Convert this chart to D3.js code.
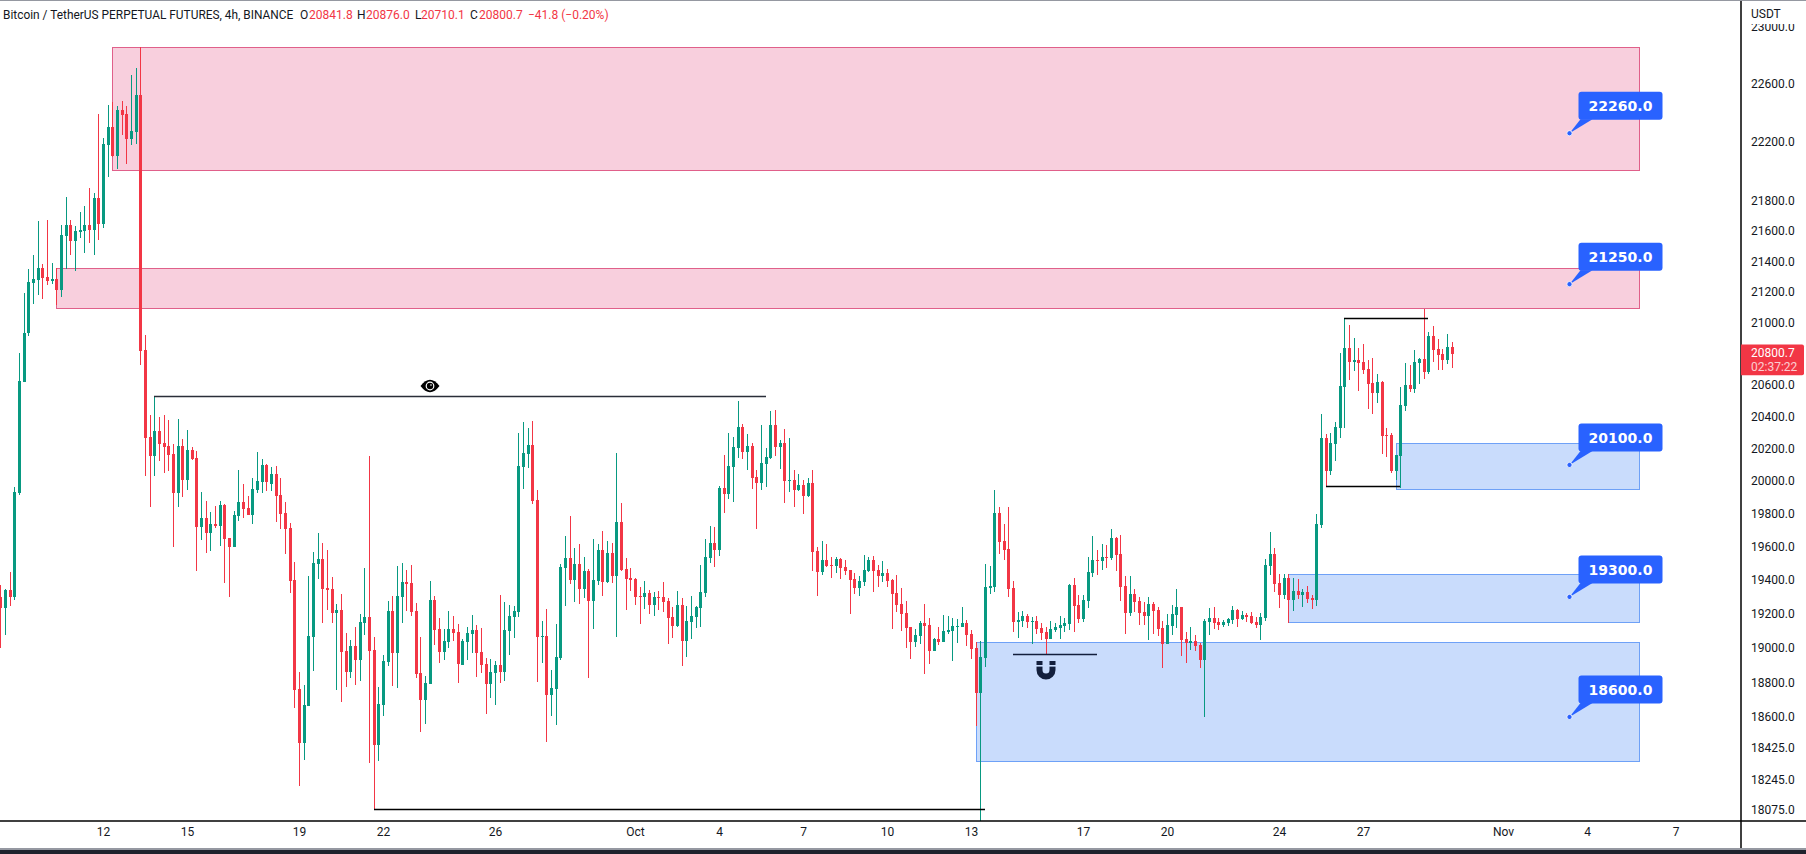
<!DOCTYPE html>
<html lang="en">
<head>
    <meta charset="UTF-8">
    <title>BTCUSDT Perpetual 4h</title>
    <script src="https://d3js.org/d3.v7.min.js"></script>
    <style>
        * { margin: 0; padding: 0; box-sizing: border-box; }
        html, body { width: 100%; height: 100%; overflow: hidden; background: #fff; }
        svg { display: block; }
        text { font-family: Roboto, Arial, sans-serif; font-size: 12px; fill: #131722; }
    </style>
</head>
<body>
    <svg id="chart" width="1806" height="854"></svg>

    <script>
        // 4h candles, first candle is Sep 8 08:00
        const firstCandle = Date.UTC(2022, 8, 8, 8);
        const candleMs = 4 * 3600 * 1000;

        const openPrices = [
            19300,19235,19341,19300,19929,20619,20936,21258,21277,21355,
            21297,21271,21284,21213,21567,21640,21533,21593,21600,21640,
            21607,21820,21647,22180,22303,22105,22421,22393,22220,22269,
            22524,20826,20275,20157,20312,20237,20219,20169,19929,20219,
            20009,20194,20145,19721,19776,19685,19739,19727,19855,19655,
            19600,19788,19874,19837,19794,19948,19997,20102,19985,20046,
            19917,19806,19715,19400,18762,18454,18664,19065,19497,19527,
            19353,19347,19206,19224,18983,18861,19012,18930,19147,19182,
            18988,18442,18669,18919,19218,18971,19300,19388,19382,19218,
            18855,18698,18791,19282,19112,18977,19035,19112,19094,18901,
            19035,19082,19106,18977,18907,18791,18855,18901,18861,19100,
            19182,19212,20089,20169,20225,19886,19065,19071,18727,18762,
            18942,19473,19533,19400,19497,19347,19455,19277,19394,19582,
            19388,19564,19424,19752,19467,19412,19406,19306,19300,19324,
            19253,19300,19300,19277,19182,19129,19253,19041,19153,19182,
            19235,19324,19533,19624,19582,19960,19923,20089,20206,20337,
            20182,20219,20028,19991,20108,20145,20350,20212,20237,20003,
            20009,19948,19979,19911,19991,19576,19448,19521,19491,19485,
            19527,19479,19461,19406,19353,19388,19455,19521,19461,19424,
            19442,19400,19324,19259,19206,19124,19035,19071,19147,19135,
            18983,19053,19035,19094,19100,19124,19124,19147,19082,19000,
            18739,18942,19353,19359,19806,19636,19588,19353,19153,19159,
            19188,19153,19159,19118,19094,19053,19106,19118,19129,19141,
            19371,19253,19171,19277,19442,19521,19515,19539,19533,19655,
            19558,19365,19206,19318,19277,19212,19188,19259,19224,19118,
            19024,19129,19194,19241,19053,19029,19041,19018,18930,19153,
            19176,19153,19135,19147,19165,19224,19171,19194,19188,19153,
            19135,19176,19485,19558,19382,19312,19412,19282,19335,19312,
            19329,19294,19282,19733,20269,20065,20231,20331,20588,20839,
            20748,20761,20748,20703,20613,20550,20619,20287,20287,20065,
            20157,20469,20600,20575,20742,20768,20684,20916,20832,20800,20761,20841.8
        ];
        const closePrices = [
            19235,19341,19300,19936,20626,20936,21264,21284,21355,21290,
            21271,21284,21213,21573,21640,21533,21600,21607,21640,21607,
            21820,21647,22186,22303,22105,22421,22386,22220,22276,22524,
            20819,20269,20157,20312,20231,20212,20163,19929,20219,20009,
            20194,20138,19721,19776,19685,19739,19727,19855,19648,19600,
            19794,19874,19831,19794,19954,20003,20102,19997,20046,19911,
            19800,19709,19394,18756,18454,18669,19071,19503,19527,19347,
            19341,19206,19224,18977,18861,19012,18930,19153,19182,18983,
            18442,18675,18925,19218,18971,19306,19388,19376,19212,18849,
            18698,18797,19282,19106,18977,19041,19112,19088,18907,19041,
            19088,19106,18971,18901,18791,18861,18901,18861,19106,19188,
            19218,20095,20175,20225,19880,19065,19071,18727,18768,18948,
            19479,19533,19400,19497,19347,19455,19277,19400,19582,19388,
            19564,19424,19752,19461,19406,19400,19300,19300,19324,19253,
            19300,19294,19271,19176,19129,19253,19041,19159,19188,19241,
            19329,19539,19624,19582,19960,19923,20095,20212,20337,20182,
            20219,20022,19991,20114,20151,20350,20212,20237,20003,20009,
            19948,19979,19911,19991,19570,19448,19521,19485,19485,19527,
            19473,19455,19400,19353,19394,19461,19521,19455,19424,19442,
            19394,19318,19253,19200,19118,19035,19076,19147,19129,18983,
            19053,19035,19100,19106,19129,19129,19147,19076,18994,18739,
            18948,19359,19365,19806,19630,19582,19347,19153,19165,19188,
            19153,19159,19112,19088,19053,19112,19124,19135,19147,19371,
            19247,19171,19282,19448,19521,19515,19539,19533,19655,19552,
            19359,19206,19318,19271,19206,19188,19259,19218,19112,19024,
            19135,19200,19241,19047,19029,19041,19012,18930,19159,19176,
            19147,19135,19153,19171,19224,19171,19194,19182,19147,19135,
            19182,19491,19558,19376,19312,19412,19282,19335,19312,19329,
            19288,19282,19739,20269,20065,20237,20337,20594,20839,20748,
            20761,20742,20697,20606,20550,20619,20281,20281,20065,20163,
            20475,20600,20575,20748,20768,20684,20916,20826,20794,20761,20845,20800.7
        ];
        const highPrices = [
            19371,19345,19448,19966,20806,21194,21348,21440,21667,21381,
            21673,21387,21355,21640,21827,21673,21633,21727,21767,21888,
            21854,22393,22227,22455,22476,22448,22483,22448,22662,22711,
            22857,20923,20412,20531,20400,20412,20381,20231,20388,20262,
            20319,20212,20188,19936,19880,19813,19850,19880,19862,19655,
            19819,20071,19985,19911,20022,20182,20138,20108,20089,20095,
            20022,19874,19745,19509,18861,18785,19424,19570,19685,19624,
            19582,19418,19259,19318,19088,19047,19124,19200,19473,20157,
            19065,18774,18959,19277,19306,19485,19503,19461,19491,19265,
            19065,18838,19394,19306,19176,19112,19218,19188,19141,19053,
            19124,19194,19135,19118,18942,18936,18925,19312,19271,19253,
            19247,20300,20369,20331,20375,19948,19159,19229,18872,19141,
            19497,19667,19788,19594,19618,19539,19467,19648,19618,19697,
            19636,19624,20175,19868,19533,19473,19412,19359,19394,19341,
            19329,19335,19388,19294,19241,19335,19294,19247,19306,19247,
            19491,19648,19727,19721,19972,20163,20300,20275,20500,20356,
            20294,20237,20071,20350,20206,20437,20444,20256,20325,20269,
            20071,20046,20009,20022,20071,19600,19636,19618,19539,19539,
            19533,19521,19461,19442,19424,19552,19539,19545,19491,19515,
            19467,19406,19430,19353,19277,19124,19112,19159,19259,19176,
            19059,19124,19194,19188,19176,19171,19241,19165,19106,19035,
            19041,19497,19485,19948,19843,19739,19843,19394,19212,19218,
            19200,19182,19188,19147,19124,19159,19147,19188,19176,19376,
            19412,19312,19312,19539,19667,19582,19618,19612,19709,19661,
            19673,19424,19424,19347,19300,19271,19300,19271,19241,19159,
            19200,19253,19347,19241,19094,19124,19076,19029,19171,19235,
            19241,19176,19165,19176,19247,19229,19218,19206,19212,19182,
            19206,19527,19691,19594,19436,19436,19436,19412,19406,19347,
            19365,19312,19800,20419,20294,20300,20369,20806,21032,20987,
            20903,20839,20865,20761,20774,20671,20626,20331,20300,20163,
            20588,20742,20729,20826,20774,21090,20942,20981,20897,20832,20929,20876
        ];
        const lowPrices = [
            19000,19076,19247,19282,19917,20619,20916,21123,21181,21155,
            21245,21252,21116,21168,21348,21440,21335,21553,21453,21520,
            21440,21540,21620,21963,22100,22017,22248,22051,22180,22186,
            20729,20034,19843,20034,20126,20052,20065,19600,19843,19905,
            19948,20132,19455,19642,19564,19576,19715,19606,19382,19300,
            19600,19758,19776,19794,19739,19929,19929,19942,19942,19752,
            19709,19558,19324,18652,18211,18358,18664,18867,19406,19147,
            19224,19147,18756,18687,18774,18826,18785,18809,19076,18341,
            18082,18347,18606,18896,18780,18768,19147,19218,19188,18826,
            18516,18561,18791,19018,18913,18930,19000,19041,18797,18901,
            18930,18971,18832,18855,18617,18710,18669,18797,18809,18959,
            19059,19182,19954,20083,19862,18803,18913,18459,18606,18555,
            18930,19247,19376,19271,19259,19294,18826,19112,19371,19306,
            19382,19382,19065,19455,19224,19335,19253,19141,19229,19200,
            19188,19224,19212,19024,19059,19124,18896,18948,19053,19118,
            19124,19300,19503,19479,19545,19806,19892,19874,20145,20138,
            20071,19954,19709,19948,19966,20138,20157,20077,19868,19936,
            19843,19942,19800,19905,19455,19306,19430,19479,19412,19442,
            19406,19430,19200,19318,19306,19365,19448,19329,19359,19388,
            19359,19112,19212,19100,19000,18936,19006,19024,18849,18907,
            18983,19018,19035,19082,18925,19029,19124,19012,18936,18549,
            18015,18890,19318,19329,19558,19521,19300,19094,19059,19124,
            19118,19024,19082,19047,18965,19053,19094,19053,19094,19106,
            19094,19147,19153,19235,19418,19430,19461,19473,19521,19455,
            19277,19082,19188,19212,19135,19135,19047,19082,19071,18884,
            19024,19076,19118,18954,18913,18988,18983,18884,18600,19076,
            19112,19106,19124,19129,19141,19124,19165,19153,19141,19118,
            19047,19159,19430,19329,19235,19288,19147,19218,19288,19241,
            19265,19229,19247,19715,19972,20040,20126,20269,20331,20632,
            20690,20562,20671,20450,20419,20488,20169,20151,20052,20009,
            19960,20437,20556,20550,20606,20639,20671,20748,20697,20697,20735,20710.1
        ];

        const priceTicks = [23000,22600,22200,21800,21600,21400,21200,21000,20600,20400,20200,20000,19800,19600,19400,19200,19000,18800,18600,18425,18245,18075];
        const timeTicks = [
            [Date.UTC(2022, 8, 12), "12"], [Date.UTC(2022, 8, 15), "15"], [Date.UTC(2022, 8, 19), "19"],
            [Date.UTC(2022, 8, 22), "22"], [Date.UTC(2022, 8, 26), "26"], [Date.UTC(2022, 9, 1), "Oct"],
            [Date.UTC(2022, 9, 4), "4"], [Date.UTC(2022, 9, 7), "7"], [Date.UTC(2022, 9, 10), "10"],
            [Date.UTC(2022, 9, 13), "13"], [Date.UTC(2022, 9, 17), "17"], [Date.UTC(2022, 9, 20), "20"],
            [Date.UTC(2022, 9, 24), "24"], [Date.UTC(2022, 9, 27), "27"], [Date.UTC(2022, 10, 1), "Nov"],
            [Date.UTC(2022, 10, 4), "4"], [Date.UTC(2022, 10, 7, 4), "7"]
        ];

        // zones: first candle, top price, bottom price
        const zoneEnd = Date.UTC(2022, 10, 5, 20, 30);
        const pinkZones = [[24, 22857, 22013], [12, 21356, 21095]];
        const blueZones = [[299, 20236, 19954], [276, 19437, 19152], [209, 19035, 18347]];
        // trend lines: from candle, to candle, price
        const levelLines = [[33, 164, 20531], [80, 211, 18082], [217, 235, 18965], [288, 306, 21032], [284, 300, 19968]];
        const calloutValues = [22260, 21250, 20100, 19300, 18600];
        const calloutTime = Date.UTC(2022, 10, 3, 9);

        const titleParts = [
            ["Bitcoin / TetherUS PERPETUAL FUTURES, 4h, BINANCE", 3, "#131722"],
            ["O", 300, "#131722"], ["20841.8", 309, "#f23645"],
            ["H", 357, "#131722"], ["20876.0", 366, "#f23645"],
            ["L", 415, "#131722"], ["20710.1", 421, "#f23645"],
            ["C", 470, "#131722"], ["20800.7", 479, "#f23645"],
            ["\u221241.8 (\u22120.20%)", 528, "#f23645"]
        ];

        const green = "#089981", red = "#f23645", calloutBlue = "#2962ff";
        const axisX = 1741, axisY = 821, bottomY = 848;

        const candleTime = i => firstCandle + i * candleMs;
        const x = d3.scaleUtc().domain([Date.UTC(2022, 8, 12), Date.UTC(2022, 10, 4)]).range([103, 1587]);
        const y = d3.scaleLog().domain([18075, 22600]).range([810, 84]);
        const px = t => Math.round(x(t));
        const py = p => Math.round(y(p));

        const svg = d3.select("#chart");
        const defs = svg.append("defs");
        defs.append("clipPath").attr("id", "plot").append("rect")
            .attr("width", axisX).attr("height", axisY);
        defs.append("clipPath").attr("id", "topTick").append("rect")
            .attr("x", 0).attr("y", -3.5).attr("width", 65).attr("height", 12);

        const plot = svg.append("g").attr("clip-path", "url(#plot)");

        // zones under the candles
        function drawZones(zones, fill, stroke) {
            plot.append("g").selectAll("rect")
                .data(zones)
                .join("rect")
                .attr("x", d => px(candleTime(d[0])) + 0.5)
                .attr("y", d => py(d[1]) + 0.5)
                .attr("width", d => px(zoneEnd) - px(candleTime(d[0])))
                .attr("height", d => py(d[2]) - py(d[1]))
                .attr("fill", fill)
                .attr("stroke", stroke);
        }
        drawZones(pinkZones, "#f8cfdd", "#e0608a");
        drawZones(blueZones, "#c9dcfc", "#6ea1f7");

        const candles = d3.range(openPrices.length);
        const candleColor = i => closePrices[i] >= openPrices[i] ? green : red;

        plot.append("g").selectAll("rect")
            .data(candles)
            .join("rect")
            .attr("x", i => px(candleTime(i)))
            .attr("y", i => py(highPrices[i]))
            .attr("width", 1)
            .attr("height", i => py(lowPrices[i]) - py(highPrices[i]))
            .attr("fill", candleColor);

        plot.append("g").selectAll("rect")
            .data(candles)
            .join("rect")
            .attr("x", i => px(candleTime(i)) - 1)
            .attr("y", i => py(Math.max(openPrices[i], closePrices[i])))
            .attr("width", 3)
            .attr("height", i => Math.max(1, py(Math.min(openPrices[i], closePrices[i])) - py(Math.max(openPrices[i], closePrices[i]))))
            .attr("fill", candleColor);

        plot.append("g").selectAll("line")
            .data(levelLines)
            .join("line")
            .attr("x1", d => px(candleTime(d[0])))
            .attr("x2", d => px(candleTime(d[1])))
            .attr("y1", d => py(d[2]) + 0.5)
            .attr("y2", d => py(d[2]) + 0.5)
            .attr("stroke", (d, i) => i === 0 ? "#2a2e39" : i === 2 ? "#131f3c" : "#000")
            .attr("stroke-width", 1.4);

        // eye above the first level line
        const eye = plot.append("g").attr("transform", `translate(${px(candleTime(92))},${py(20594)})`);
        eye.append("path").attr("d", "M-9.5,0Q0,-12.5 9.5,0Q0,12.5 -9.5,0Z").attr("fill", "#000");
        eye.append("circle").attr("r", 4.4).attr("fill", "#fff");
        eye.append("circle").attr("r", 3.2).attr("fill", "#000");
        eye.append("circle").attr("cx", 1).attr("cy", -1).attr("r", 0.8).attr("fill", "#fff");

        // magnet below the wick
        const magnet = plot.append("g").attr("transform", `translate(${px(candleTime(224))},${py(18872)})`);
        magnet.append("path")
            .attr("d", "M-6.5,-9V0A6.5,6.5 0 0 0 6.5,0V-9")
            .attr("fill", "none").attr("stroke", "#131f3c").attr("stroke-width", 6);
        magnet.append("rect").attr("x", -10).attr("y", -5).attr("width", 20).attr("height", 1.6).attr("fill", "#c9dcfc");

        // callouts with the dot sitting on the price
        const callouts = svg.append("g").selectAll("g")
            .data(calloutValues)
            .join("g")
            .attr("transform", d => `translate(${x(calloutTime)},${y(d)})`);
        callouts.append("path")
            .attr("d", "M0,0L11,-14L23,-14Z")
            .attr("fill", calloutBlue);
        callouts.append("rect")
            .attr("x", 9).attr("y", -41.5).attr("width", 84).attr("height", 28).attr("rx", 3)
            .attr("fill", calloutBlue);
        callouts.append("circle")
            .attr("r", 2.6).attr("fill", calloutBlue).attr("stroke", "#fff").attr("stroke-width", 0.8);
        callouts.append("text")
            .attr("x", 51).attr("y", -22)
            .attr("text-anchor", "middle")
            .style("fill", "#fff")
            .style("font-family", "'DejaVu Sans', sans-serif")
            .style("font-size", "14px")
            .style("font-weight", "700")
            .text(d => d.toFixed(1));

        // price scale
        const yAxis = d3.axisRight(y).tickValues(priceTicks).tickSize(0).tickPadding(10).tickFormat(d => d.toFixed(1));
        svg.append("g").attr("transform", `translate(${axisX},0)`)
            .call(yAxis)
            .call(g => g.select(".domain").remove())
            .call(g => g.selectAll("text").style("font-size", "12px"))
            .call(g => g.selectAll(".tick").filter(d => d === 23000).attr("clip-path", "url(#topTick)"));

        // time scale
        const xAxis = d3.axisBottom(x).tickValues(timeTicks.map(d => d[0])).tickSize(0).tickPadding(6)
            .tickFormat((d, i) => timeTicks[i][1]);
        svg.append("g").attr("transform", `translate(0,${axisY})`)
            .call(xAxis)
            .call(g => g.select(".domain").remove())
            .call(g => g.selectAll("text").style("font-size", "12px"));

        svg.append("line").attr("x1", 0).attr("x2", 1806).attr("y1", axisY).attr("y2", axisY)
            .attr("stroke", "#000").attr("stroke-width", 1.5);
        svg.append("line").attr("x1", axisX).attr("x2", axisX).attr("y1", 0).attr("y2", bottomY)
            .attr("stroke", "#000").attr("stroke-width", 1.5);

        svg.append("text").attr("x", 1751).attr("y", 17.5).text("USDT");

        // last price tag
        const lastPrice = closePrices[closePrices.length - 1];
        const tagTop = y(lastPrice) - 9;
        svg.append("path")
            .attr("d", `M${axisX},${tagTop}H1802a2,2 0 0 1 2,2V${tagTop + 28.7}a2,2 0 0 1 -2,2H${axisX}Z`)
            .attr("fill", red);
        svg.append("text").attr("x", 1751).attr("y", tagTop + 12.5).style("fill", "#fff").text(lastPrice.toFixed(1));
        svg.append("text").attr("x", 1751).attr("y", tagTop + 26.5).style("fill", "#fff").style("opacity", 0.75).text("02:37:22");

        // header row
        svg.append("g").selectAll("text")
            .data(titleParts)
            .join("text")
            .attr("x", d => d[1])
            .attr("y", 19)
            .style("fill", d => d[2])
            .style("font-size", (d, i) => i === 0 ? "11.9px" : null)
            .text(d => d[0]);

        // window edges
        svg.append("rect").attr("width", 1806).attr("height", 1).attr("fill", "#9598a1");
        svg.append("rect").attr("y", bottomY).attr("width", 1806).attr("height", 2).attr("fill", "#9598a1");
        svg.append("rect").attr("y", bottomY + 2).attr("width", 1806).attr("height", 4).attr("fill", "#1e222d");
    </script>
</body>
</html>
